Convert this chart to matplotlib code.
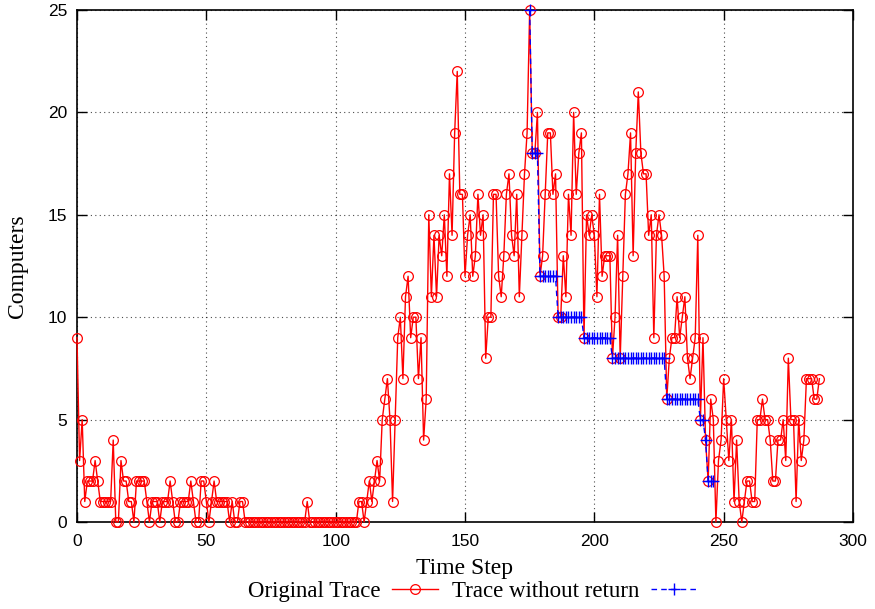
import matplotlib
matplotlib.use("Agg")
import matplotlib.pyplot as plt
import numpy as np

# computers in use at each time step (t = 0 .. 287)
original = [9, 3, 5, 1, 2, 2, 2, 3, 2, 1, 1, 1, 1, 1, 4, 0, 0, 3, 2, 2,
            1, 1, 0, 2, 2, 2, 2, 1,
            0, 1, 1, 1, 0, 1, 1, 1, 2, 1, 0, 0, 1, 1, 1, 1, 2, 1, 0, 0,
            2, 2, 1, 0, 1, 2, 1, 1, 1, 1,
            1, 0, 1, 0, 0, 1, 1, 0, 0,
            0, 0, 0, 0, 0, 0, 0, 0, 0, 0, 0, 0, 0, 0, 0, 0, 0, 0, 0, 0,
            0, 0, 1, 0, 0, 0, 0, 0, 0, 0, 0, 0, 0, 0, 0, 0, 0, 0, 0, 0, 0,
            0, 1, 1, 0, 1, 2, 1, 2, 3, 2, 5, 6, 7, 5, 1, 5, 9, 10, 7, 11,
            12, 9, 10, 10, 7, 9, 4, 6,
            15, 11, 14, 11, 14, 13, 15, 12, 17, 14, 19, 22,
            16, 16, 12, 14, 15, 12, 13, 16, 14, 15, 8, 10, 10,
            16, 16, 12, 11, 13, 16, 17, 14, 13, 16, 11, 14, 17, 19, 25,
            18, 18, 20, 12, 13, 16, 19, 19, 16, 17, 10, 10, 13, 11, 16, 14,
            20, 16, 18, 19, 9, 15, 14, 15, 14, 11, 16,
            12, 13, 13, 13, 8, 10, 14, 8, 12, 16, 17, 19, 13, 18, 21, 18,
            17, 17, 14, 15, 9, 14, 15,
            14, 12, 6, 8, 9, 9, 11, 9, 10, 11, 8, 7, 8, 9, 14, 5, 9, 4, 2,
            6, 5, 0,
            3, 4, 7, 5, 3, 5, 1, 4, 1, 0, 1, 2, 2, 1, 1, 5, 5, 6, 5, 5,
            4, 2, 2, 4, 4, 5, 3, 8, 5, 5, 1, 5, 3, 4, 7, 7, 7, 6, 6, 7]
steps = np.arange(len(original))

# trace without return, t = 175 .. 246
no_return_start = 175
no_return = [25, 18, 18, 18,
             12, 12, 12, 12, 12, 12, 12,
             10, 10, 10, 10, 10, 10, 10, 10, 10, 10,
             9, 9, 9, 9, 9, 9, 9, 9, 9, 9, 9,
             8, 8, 8, 8, 8, 8, 8, 8, 8, 8, 8, 8, 8, 8, 8, 8, 8, 8, 8, 8, 8,
             6, 6, 6, 6, 6, 6, 6, 6, 6, 6, 6, 6, 6,
             5, 5, 4, 2, 2, 2]
no_return_steps = np.arange(no_return_start, no_return_start + len(no_return))

serif = "Liberation Serif"
sans = "Liberation Sans"

fig = plt.figure(figsize=(8.75, 6.09), dpi=100)
ax = fig.add_axes([77 / 875, 1 - 522 / 609, (853 - 77) / 875, (522 - 10) / 609])

ax.plot(steps, original, color="red", lw=1.0, marker="o", ms=7,
        mfc="none", mec="red", mew=0.9, clip_on=False, zorder=3,
        label="Original Trace")
ax.plot(no_return_steps, no_return, color="blue", lw=1.0, ls=(0, (4, 3)),
        marker="+", ms=8, mew=1.0, clip_on=False, zorder=4,
        label="Trace without return")

ax.set_xlim(0, 300)
ax.set_ylim(0, 25)
ax.set_xticks(range(0, 301, 50))
ax.set_yticks(range(0, 26, 5))
ax.grid(True, color="black", ls=(0, (1, 3)), lw=0.8, alpha=0.7)
ax.tick_params(direction="in", length=7, width=1, top=True, right=True,
               labelsize=12.5)
ax.tick_params(axis="x", pad=9)
ax.tick_params(axis="y", pad=7)
for lab in ax.get_xticklabels() + ax.get_yticklabels():
    lab.set_family(sans)
for sp in ax.spines.values():
    sp.set_linewidth(1.2)

ax.set_xlabel("Time Step", fontsize=17, family=serif, labelpad=6)
ax.set_ylabel("Computers", fontsize=17, family=serif, labelpad=14)

fig.legend(loc="center", bbox_to_anchor=(0.54, 0.028), ncol=2,
           frameon=False, markerfirst=False, handlelength=2.0,
           columnspacing=0.6, handletextpad=0.5, borderaxespad=0,
           prop={"family": serif, "size": 16.5})

fig.savefig("out.png", dpi=100)
